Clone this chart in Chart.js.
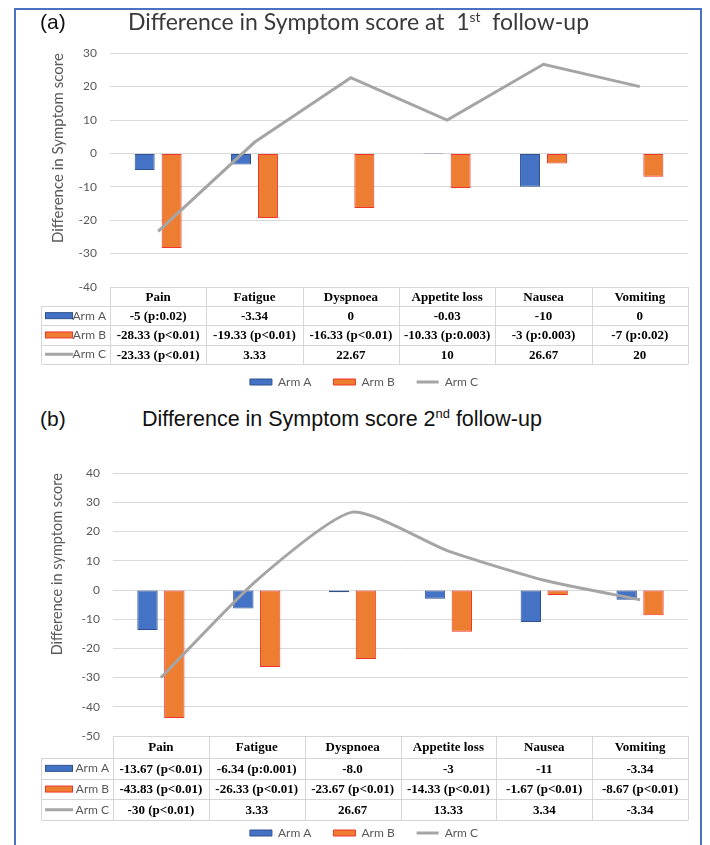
<!DOCTYPE html>
<html>
<head>
<meta charset="utf-8">
<script src="https://cdn.jsdelivr.net/npm/chart.js@4.4.0/dist/chart.umd.min.js"></script>
<style>
  body { margin: 0; background: #fff; width: 710px; height: 845px; position: relative; overflow: hidden; font-family: "Liberation Sans", Arial, sans-serif; }
  .frame { position: absolute; left: 14px; top: 8px; width: 688px; height: 900px; border: 2px solid #4a72c0; border-bottom: none; box-sizing: border-box; }
  .tag { position: absolute; font-size: 21px; color: #111; line-height: 24px; }
  .ttl { position: absolute; white-space: nowrap; }
  .ttl sup { font-size: 60%; vertical-align: baseline; position: relative; top: -0.6em; }
  canvas { position: absolute; left: 0; }
</style>
</head>
<body>
<div class="frame"></div>

<canvas id="chartA" width="710" height="365" style="top:33px"></canvas>
<div class="tag" style="left:40px;top:10px">(a)</div>
<div class="ttl" style="left:128px;top:7px;font-family:Lato;font-size:23px;line-height:28px;color:#3a3a3a">Difference in Symptom score at&nbsp; 1<sup>st</sup>&nbsp; follow-up</div>

<canvas id="chartB" width="710" height="396" style="top:453px"></canvas>
<div class="tag" style="left:40px;top:407px">(b)</div>
<div class="ttl" style="left:142px;top:407px;font-size:21.5px;line-height:25px;color:#111">Difference in Symptom score 2<sup>nd</sup> follow-up</div>

<script>
// categories
const symptoms = ['Pain', 'Fatigue', 'Dyspnoea', 'Appetite loss', 'Nausea', 'Vomiting'];

// (a) 1st follow-up
const armA1 = [-5, -3.34, 0, -0.03, -10, 0];
const armB1 = [-28.33, -19.33, -16.33, -10.33, -3, -7];
const armC1 = [-23.33, 3.33, 22.67, 10, 26.67, 20];
const armA1Text = ['-5 (p:0.02)', '-3.34', '0', '-0.03', '-10', '0'];
const armB1Text = ['-28.33 (p<0.01)', '-19.33 (p<0.01)', '-16.33 (p<0.01)', '-10.33 (p:0.003)', '-3 (p:0.003)', '-7 (p:0.02)'];
const armC1Text = ['-23.33 (p<0.01)', '3.33', '22.67', '10', '26.67', '20'];
const yTicks1 = [-40, -30, -20, -10, 0, 10, 20, 30];

// (b) 2nd follow-up
const armA2 = [-13.67, -6.34, -0.8, -3, -11, -3.34];
const armB2 = [-43.83, -26.33, -23.67, -14.33, -1.67, -8.67];
const armC2 = [-30, 3.33, 26.67, 13.33, 3.34, -3.34];
const armA2Text = ['-13.67 (p<0.01)', '-6.34 (p:0.001)', '-8.0', '-3', '-11', '-3.34'];
const armB2Text = ['-43.83 (p<0.01)', '-26.33 (p<0.01)', '-23.67 (p<0.01)', '-14.33 (p<0.01)', '-1.67 (p<0.01)', '-8.67 (p<0.01)'];
const armC2Text = ['-30 (p<0.01)', '3.33', '26.67', '13.33', '3.34', '-3.34'];
const yTicks2 = [-50, -40, -30, -20, -10, 0, 10, 20, 30, 40];

const gray = '#595959';

// draws the data table under the plot, one column per category
const dataTable = {
  id: 'dataTable',
  afterDraw(chart, args, opts) {
    const ctx = chart.ctx;
    const area = chart.chartArea;
    const x = chart.scales.x;
    const n = chart.data.labels.length;
    const cw = (area.right - area.left) / n;
    const ys = [area.bottom, area.bottom + opts.headH];
    for (let i = 0; i < 3; i++) ys.push(ys[ys.length - 1] + opts.rowH);
    const L = Math.round(area.left) + 0.5, R = Math.round(area.right) + 0.5;

    ctx.save();
    ctx.strokeStyle = '#d6d6d6';
    ctx.lineWidth = 1;
    ctx.beginPath();
    ctx.moveTo(L, Math.round(ys[0]) + 0.5); ctx.lineTo(R, Math.round(ys[0]) + 0.5);
    for (let i = 1; i < ys.length; i++) {
      ctx.moveTo(opts.left + 0.5, Math.round(ys[i]) + 0.5);
      ctx.lineTo(R, Math.round(ys[i]) + 0.5);
    }
    for (let i = 0; i <= n; i++) {
      const xx = Math.round(area.left + i * cw) + 0.5;
      ctx.moveTo(xx, ys[0]); ctx.lineTo(xx, ys[4]);
    }
    ctx.moveTo(opts.left + 0.5, ys[1]); ctx.lineTo(opts.left + 0.5, ys[4]);
    ctx.stroke();

    ctx.textAlign = 'center';
    ctx.textBaseline = 'middle';
    ctx.fillStyle = '#000';
    ctx.font = 'bold 13px "Liberation Serif"';
    chart.data.labels.forEach((l, i) => ctx.fillText(l, x.getPixelForValue(i), (ys[0] + ys[1]) / 2 + 1));

    chart.data.datasets.forEach((ds, r) => {
      const cy = (ys[r + 1] + ys[r + 2]) / 2;
      if (ds.type === 'line') {
        ctx.strokeStyle = ds.borderColor;
        ctx.lineWidth = 3;
        ctx.beginPath();
        ctx.moveTo(opts.left + 4, cy); ctx.lineTo(opts.left + 32, cy);
        ctx.stroke();
      } else {
        ctx.fillStyle = ds.backgroundColor;
        ctx.strokeStyle = ds.borderColor;
        ctx.lineWidth = 1;
        ctx.fillRect(opts.left + 4.5, cy - 3, 27, 6);
        ctx.strokeRect(opts.left + 4.5, cy - 3, 27, 6);
      }
      ctx.fillStyle = gray;
      ctx.font = '12px Lato';
      ctx.textAlign = 'right';
      ctx.fillText(ds.label, area.left - 4, cy);
      ctx.fillStyle = '#000';
      ctx.font = 'bold 13px "Liberation Serif"';
      ctx.textAlign = 'center';
      ds.cells.forEach((t, i) => ctx.fillText(t, x.getPixelForValue(i), cy + 1));
    });
    ctx.restore();
  }
};

function makeChart(id, a, b, c, aText, bText, cText, yTicks, axisTitle, sizes) {
  return new Chart(document.getElementById(id), {
    type: 'bar',
    data: {
      labels: symptoms,
      datasets: [{
        label: 'Arm A',
        data: a,
        cells: aText,
        backgroundColor: '#4472c4',
        borderColor: '#2f528f',
        borderWidth: 1,
        borderSkipped: false,
        order: 1
      }, {
        label: 'Arm B',
        data: b,
        cells: bText,
        backgroundColor: '#ed7d31',
        borderColor: '#f2352a',
        borderWidth: 1,
        borderSkipped: false,
        order: 1
      }, {
        type: 'line',
        label: 'Arm C',
        data: c,
        cells: cText,
        borderColor: '#a5a5a5',
        backgroundColor: '#a5a5a5',
        borderWidth: 3,
        pointRadius: 0,
        tension: sizes.tension,
        order: 0
      }]
    },
    options: {
      responsive: false,
      maintainAspectRatio: false,
      animation: false,
      categoryPercentage: 0.56,
      barPercentage: sizes.barPct,
      layout: { padding: { left: 40, right: 22, top: 6, bottom: 0 } },
      plugins: {
        tooltip: { enabled: false },
        legend: {
          position: 'bottom',
          labels: {
            usePointStyle: true,
            pointStyleWidth: 22,
            boxHeight: 6,
            padding: 22,
            color: gray,
            font: { family: 'Lato', size: 12 },
            sort: (p, q) => p.datasetIndex - q.datasetIndex,
            generateLabels(chart) {
              const items = Chart.defaults.plugins.legend.labels.generateLabels(chart);
              items.forEach(it => {
                it.pointStyle = chart.data.datasets[it.datasetIndex].type === 'line' ? 'line' : 'rect';
              });
              return items;
            }
          }
        },
        dataTable: { left: 41, headH: sizes.headH, rowH: sizes.rowH }
      },
      scales: {
        x: {
          ticks: { display: false },
          grid: { display: false },
          border: { display: false },
          afterFit(s) { s.height = sizes.xh; }
        },
        y: {
          min: yTicks[0],
          max: yTicks[yTicks.length - 1],
          ticks: { stepSize: 10, color: gray, font: { family: 'Lato', size: 12 }, padding: 13 },
          grid: { color: '#d9d9d9', drawTicks: false },
          border: { display: false },
          title: {
            display: true,
            text: axisTitle,
            align: 'end',
            color: gray,
            font: { family: 'Lato', size: sizes.titleSize },
            padding: { top: 9, bottom: 0 }
          },
          afterFit(s) { s.width = sizes.yw; }
        }
      }
    },
    plugins: [dataTable]
  });
}

makeChart('chartA', armA1, armB1, armC1, armA1Text, armB1Text, armC1Text, yTicks1,
  'Difference in Symptom score',
  { barPct: 0.74, tension: 0, headH: 19, rowH: 19.3, xh: 67, yw: 70, titleSize: 15 });

makeChart('chartB', armA2, armB2, armC2, armA2Text, armB2Text, armC2Text, yTicks2,
  'Difference in symptom score',
  { barPct: 0.76, tension: 0.2, headH: 22, rowH: 20.7, xh: 69, yw: 73, titleSize: 14.5 });
</script>
</body>
</html>
